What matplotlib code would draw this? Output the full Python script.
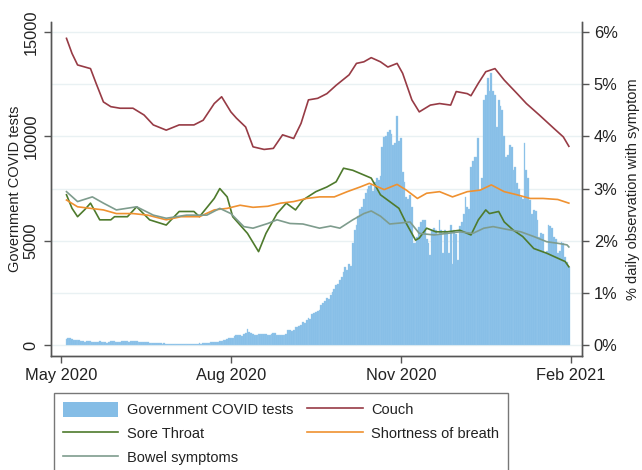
import numpy as np
import pandas as pd
import matplotlib
matplotlib.use("Agg")
import matplotlib.pyplot as plt
from matplotlib.ticker import MultipleLocator
from matplotlib.patches import Patch
from matplotlib.lines import Line2D

plt.rcParams['font.family'] = ['Liberation Sans', 'DejaVu Sans']

# daily government covid tests, 4 May 2020 - 31 Jan 2021 (one row per week)
tests = [
    280, 340, 320, 300, 260, 220, 240,
    230, 200, 180, 150, 190, 200, 170,
    160, 150, 120, 140, 170, 160, 150,
    130, 110, 140, 200, 190, 170, 150,
    140, 160, 190, 200, 210, 180, 150,
    170, 190, 180, 170, 150, 130, 120,
    130, 140, 120, 110, 100, 90, 100,
    110, 100, 80, 70, 80, 70, 60,
    60, 50, 40, 50, 45, 40, 40,
    40, 45, 50, 45, 50, 60, 55,
    60, 70, 80, 70, 90, 100, 110,
    100, 120, 130, 140, 130, 150, 170,
    200, 230, 260, 300, 330, 330, 350,
    420, 460, 500, 480, 430, 520, 560,
    770, 600, 560, 540, 500, 460, 520,
    540, 530, 550, 520, 480, 500, 540,
    560, 590, 480, 470, 490, 500, 470,
    520, 700, 720, 690, 720, 880, 850,
    900, 960, 1120, 1050, 1200, 1280, 1250,
    1500, 1550, 1600, 1650, 1700, 1900, 2000,
    2100, 2250, 2200, 2400, 2560, 2700, 2880,
    2900, 3100, 3280, 3500, 3750, 3600, 3900,
    3800, 4880, 5500, 5750, 6200, 6500, 6630,
    7000, 7270, 7500, 7600, 7670, 7400, 7800,
    8000, 7900, 8100, 9500, 9950, 10000, 10200,
    10300, 10100, 9600, 9700, 11000, 9800, 9900,
    8300, 7800, 7100, 7000, 7200, 6630, 4880,
    4900, 5200, 5670, 5900, 6000, 6000, 5100,
    4900, 4300, 5500, 5600, 5500, 5300, 6000,
    5500, 4400, 5500, 5400, 4400, 5750, 3900,
    5500, 5300, 4080, 5700, 5900, 6300, 7100,
    6630, 6500, 8550, 8800, 9030, 9000, 9900,
    7430, 8000, 11750, 12000, 12780, 12200, 13030,
    12200, 12000, 10470, 11750, 11450, 11270, 10000,
    9000, 9100, 9590, 9500, 8400, 8550, 7770,
    7500, 7110, 7000, 9670, 8390, 8000, 6950,
    6300, 6470, 6400, 6000, 5200, 5370, 5300,
    4410, 4500, 5750, 5700, 5600, 5200, 5100,
    4400, 4500, 4950, 4900, 4230, 4000, 3750,
]
tests_start = '2020-05-04'

# symptom lines: days after 1 May 2020 and % of daily observations
couch_day = [3, 6, 9, 12, 16, 19, 23, 27, 32, 39, 45, 50, 57, 64, 72, 77, 83, 87,
             92, 95, 100, 104, 110, 115, 120, 126, 130, 134, 139, 144, 149, 156,
             160, 164, 168, 173, 177, 182, 185, 190, 194, 200, 205, 211, 214, 220,
             222, 226, 230, 235, 240, 247, 252, 259, 267, 272, 275]
couch = [5.88, 5.59, 5.37, 5.34, 5.30, 5.02, 4.66, 4.57, 4.54, 4.54, 4.41, 4.22,
         4.12, 4.22, 4.22, 4.31, 4.63, 4.76, 4.47, 4.35, 4.18, 3.80, 3.75, 3.77,
         4.03, 3.96, 4.25, 4.70, 4.73, 4.82, 4.98, 5.18, 5.40, 5.43, 5.51, 5.43,
         5.33, 5.40, 5.21, 4.70, 4.47, 4.60, 4.63, 4.60, 4.86, 4.82, 4.78, 5.02,
         5.24, 5.30, 5.08, 4.82, 4.63, 4.41, 4.15, 3.99, 3.81]

throat_day = [3, 6, 9, 13, 16, 21, 27, 29, 36, 41, 48, 57, 64, 72, 75, 83, 86, 90,
              93, 101, 107, 111, 117, 122, 127, 131, 138, 144, 149, 153, 158, 164,
              168, 173, 178, 183, 187, 192, 194, 198, 203, 209, 216, 222, 226, 230,
              232, 237, 240, 245, 250, 256, 263, 268, 273, 275]
throat = [2.88, 2.62, 2.46, 2.60, 2.72, 2.40, 2.40, 2.46, 2.46, 2.65, 2.40, 2.30,
          2.56, 2.56, 2.46, 2.81, 3.00, 2.84, 2.46, 2.14, 1.79, 2.14, 2.52, 2.72,
          2.59, 2.78, 2.94, 3.03, 3.13, 3.39, 3.35, 3.26, 3.20, 2.88, 2.75, 2.62,
          2.33, 2.01, 2.05, 2.24, 2.17, 2.17, 2.20, 2.11, 2.40, 2.59, 2.52, 2.56,
          2.36, 2.20, 2.08, 1.85, 1.76, 1.68, 1.60, 1.50]

breath_day = [3, 9, 16, 23, 30, 39, 47, 57, 65, 75, 83, 90, 97, 104, 112, 119, 126,
              133, 140, 148, 155, 162, 167, 175, 182, 187, 193, 198, 205, 212, 220,
              227, 233, 240, 247, 254, 261, 269, 275]
breath = [2.78, 2.65, 2.62, 2.59, 2.52, 2.52, 2.49, 2.40, 2.46, 2.46, 2.59, 2.62,
          2.68, 2.64, 2.66, 2.72, 2.75, 2.81, 2.84, 2.84, 2.94, 3.03, 3.10, 2.98,
          3.08, 2.97, 2.81, 2.91, 2.94, 2.84, 2.94, 2.97, 3.07, 2.94, 2.88, 2.81,
          2.81, 2.79, 2.72]

bowel_day = [3, 9, 17, 23, 30, 41, 50, 57, 68, 79, 86, 92, 99, 104, 112, 117, 124,
             131, 140, 146, 151, 158, 164, 168, 173, 178, 184, 189, 194, 202, 209,
             216, 223, 229, 234, 241, 249, 256, 263, 269, 274, 275]
bowel = [2.94, 2.75, 2.84, 2.72, 2.59, 2.65, 2.49, 2.43, 2.49, 2.49, 2.62, 2.52,
         2.27, 2.24, 2.33, 2.40, 2.33, 2.32, 2.24, 2.28, 2.24, 2.40, 2.52, 2.57,
         2.47, 2.32, 2.34, 2.36, 2.14, 2.11, 2.14, 2.17, 2.14, 2.24, 2.27, 2.22,
         2.17, 2.08, 1.98, 1.95, 1.92, 1.88]

xtick_dates = ['2020-05-01', '2020-08-01', '2020-11-01', '2021-02-01']
xtick_labels = ['May 2020', 'Aug 2020', 'Nov 2020', 'Feb 2021']

base = pd.Timestamp('2020-05-01')
def to_dates(days):
    return base + pd.to_timedelta(days, unit='D')

c_bar = '#85bde6'
c_couch = '#973b45'
c_throat = '#4e7a2c'
c_breath = '#ef9130'
c_bowel = '#7e9c8d'
c_axis = '#555555'
c_text = '#222222'

fig = plt.figure(figsize=(6.42, 4.70), dpi=100)
ax = fig.add_axes([0.0794, 0.2426, 0.8271, 0.7113])
ax2 = ax.twinx()

bar_dates = pd.date_range(tests_start, periods=len(tests), freq='D')
ax.bar(bar_dates, tests, width=1.0, color=c_bar, edgecolor='#9ccbed',
       linewidth=0.25, zorder=2)

ax2.plot(to_dates(couch_day), couch, color=c_couch, lw=1.2)
ax2.plot(to_dates(throat_day), throat, color=c_throat, lw=1.2)
ax2.plot(to_dates(breath_day), breath, color=c_breath, lw=1.2)
ax2.plot(to_dates(bowel_day), bowel, color=c_bowel, lw=1.2)

ax.set_xlim(base - pd.Timedelta(days=5.4), base + pd.Timedelta(days=282.1))
ax.set_ylim(-527, 15500)
ax2.set_ylim(-527 / 2500, 15500 / 2500)

ax.set_xticks(pd.to_datetime(xtick_dates))
ax.set_xticklabels(xtick_labels)
ax.set_yticks([0, 5000, 10000, 15000])
ax.yaxis.set_minor_locator(MultipleLocator(2500))
ax.grid(axis='y', which='both', color='#e9f1f3', lw=1.0, zorder=0)
ax.set_axisbelow(True)
ax2.set_yticks(range(0, 7))
ax2.set_yticklabels([f'{i}%' for i in range(0, 7)])

for a in (ax, ax2):
    a.spines['top'].set_visible(False)
    for s in ('left', 'right', 'bottom'):
        a.spines[s].set_color(c_axis)
        a.spines[s].set_linewidth(1.0)
    a.tick_params(which='major', length=5, width=1.0, color=c_axis,
                  labelsize=11.8, labelcolor=c_text)
    a.tick_params(which='minor', length=0)

for lab in ax.get_yticklabels():
    lab.set_rotation(90)
    lab.set_va('center')
ax.tick_params(axis='y', pad=4)
ax.tick_params(axis='x', pad=4)

ax.set_ylabel('Government COVID tests', fontsize=10.5, color=c_text, labelpad=1)
ax2.set_ylabel('% daily observation with symptom', fontsize=10.5, color=c_text, labelpad=6)

handles = [Patch(facecolor=c_bar, edgecolor='none'),
           Line2D([], [], color=c_throat, lw=1.2),
           Line2D([], [], color=c_bowel, lw=1.2),
           Line2D([], [], color=c_couch, lw=1.2),
           Line2D([], [], color=c_breath, lw=1.2)]
labels = ['Government COVID tests', 'Sore Throat', 'Bowel symptoms',
          'Couch', 'Shortness of breath']
leg = fig.legend(handles, labels, ncol=2, loc='upper left',
                 bbox_to_anchor=(54 / 642, (470 - 393) / 470),
                 fontsize=10.5, frameon=True, fancybox=False, shadow=False,
                 handlelength=3.8, handleheight=1.2, handletextpad=0.6,
                 columnspacing=0.95, labelspacing=0.6, borderpad=0.6,
                 borderaxespad=0)
leg.get_frame().set_edgecolor(c_axis)
leg.get_frame().set_linewidth(1.0)
for t in leg.get_texts():
    t.set_color(c_text)

fig.savefig('out.png', dpi=100)
